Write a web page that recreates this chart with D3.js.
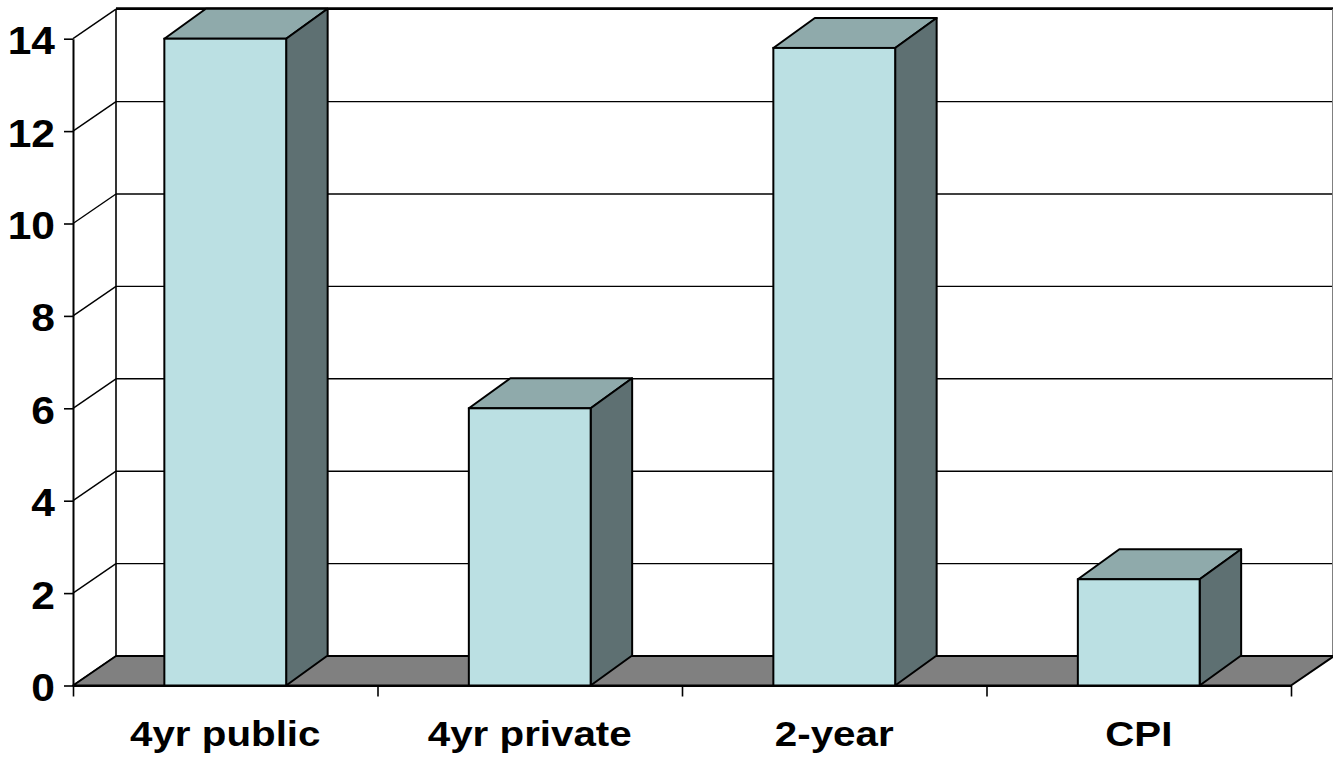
<!DOCTYPE html>
<html>
<head>
<meta charset="utf-8">
<script src="https://cdn.jsdelivr.net/npm/d3@7"></script>
<style>
  html, body { margin: 0; padding: 0; background: #ffffff; }
  svg { display: block; }
</style>
</head>
<body>
<svg id="chart" width="1333" height="759"></svg>
<script>
// ---- data ----
const categories = ["4yr public", "4yr private", "2-year", "CPI"];
const values = [14.0, 6.0, 13.8, 2.3];
const yTicks = [0, 2, 4, 6, 8, 10, 12, 14];

// ---- layout ----
const W = 1333, H = 759;
const left = 73, right = 1291;
const y0px = 685.5, y14px = 38.7;
const wallDx = 43, wallDy = 29.5;   // depth offset of walls/floor
const barDx = 41.5, barDy = 30;     // depth offset of bars
const fontFam = "Arial, 'Liberation Sans', Helvetica, sans-serif";
const stretch = 1.12;

const svg = d3.select("#chart");

const y = d3.scaleLinear().domain([0, 14]).range([y0px, y14px]);
const x = d3.scaleBand().domain(categories).range([left, right])
  .paddingInner(0.6).paddingOuter(0.3);
const xEdge = d3.scaleLinear().domain([0, categories.length]).range([left, right]);

// back wall gridlines
const grid = svg.append("g");
grid.selectAll("line.back").data(yTicks).join("line")
  .attr("class", "back")
  .attr("x1", left + wallDx).attr("x2", right + wallDx)
  .attr("y1", d => y(d) - wallDy).attr("y2", d => y(d) - wallDy)
  .attr("stroke", "#000").attr("stroke-width", 1.4);
// side wall diagonals
grid.selectAll("line.side").data(yTicks).join("line")
  .attr("class", "side")
  .attr("x1", left).attr("x2", left + wallDx)
  .attr("y1", d => y(d)).attr("y2", d => y(d) - wallDy)
  .attr("stroke", "#000").attr("stroke-width", 1.4);
// back wall edges
grid.append("line")
  .attr("x1", left + wallDx).attr("x2", left + wallDx)
  .attr("y1", y(14) - wallDy).attr("y2", y(0) - wallDy)
  .attr("stroke", "#000").attr("stroke-width", 1.6);
grid.append("line")
  .attr("x1", left + wallDx).attr("x2", right + wallDx)
  .attr("y1", y(14) - wallDy - 0.8).attr("y2", y(14) - wallDy - 0.8)
  .attr("stroke", "#000").attr("stroke-width", 2.4);
grid.append("line")
  .attr("x1", right + wallDx - 1).attr("x2", right + wallDx - 1)
  .attr("y1", y(14) - wallDy).attr("y2", y(0) - wallDy)
  .attr("stroke", "#808080").attr("stroke-width", 2);

// floor
svg.append("polygon")
  .attr("points", [
    [left, y(0)], [left + wallDx, y(0) - wallDy],
    [right + wallDx, y(0) - wallDy], [right, y(0)]
  ].map(p => p.join(",")).join(" "))
  .attr("fill", "#808080").attr("stroke", "#000").attr("stroke-width", 2)
  .attr("stroke-linejoin", "round");

// bars
const bars = svg.append("g").selectAll("g").data(values).join("g");
const pts = a => a.map(p => p.join(",")).join(" ");
bars.append("polygon")
  .attr("points", (d, i) => {
    const x0 = x(categories[i]), x1 = x0 + x.bandwidth(), yt = y(d);
    return pts([[x0, yt], [x0 + barDx, yt - barDy], [x1 + barDx, yt - barDy], [x1, yt]]);
  })
  .attr("fill", "#8FAAAB").attr("stroke", "#000").attr("stroke-width", 2).attr("stroke-linejoin", "round");
bars.append("polygon")
  .attr("points", (d, i) => {
    const x1 = x(categories[i]) + x.bandwidth(), yt = y(d), yb = y(0);
    return pts([[x1, yt], [x1 + barDx, yt - barDy], [x1 + barDx, yb - barDy], [x1, yb]]);
  })
  .attr("fill", "#5E7072").attr("stroke", "#000").attr("stroke-width", 2).attr("stroke-linejoin", "round");
bars.append("rect")
  .attr("x", (d, i) => x(categories[i]))
  .attr("y", d => y(d))
  .attr("width", x.bandwidth())
  .attr("height", d => y(0) - y(d))
  .attr("fill", "#BBE0E3").attr("stroke", "#000").attr("stroke-width", 2);

// y axis
const yAxis = svg.append("g")
  .attr("transform", `translate(${left},0)`)
  .call(d3.axisLeft(y).tickValues(yTicks).tickSize(9).tickSizeOuter(0).tickFormat(d3.format("d")));
yAxis.select(".domain").attr("stroke", "#000").attr("stroke-width", 2);
yAxis.selectAll(".tick line").attr("stroke", "#000").attr("stroke-width", 1.6);
yAxis.selectAll(".tick text")
  .attr("x", null).attr("dy", null)
  .attr("transform", `translate(-18,15) scale(${stretch},1)`)
  .attr("text-anchor", "end")
  .attr("fill", "#000")
  .style("font-family", fontFam).style("font-weight", "bold").style("font-size", "38px");

// x axis (category boundary ticks)
const xAxis = svg.append("g")
  .attr("transform", `translate(0,${y(0)})`)
  .call(d3.axisBottom(xEdge).tickValues(d3.range(categories.length + 1)).tickSize(11).tickSizeOuter(0).tickFormat(""));
xAxis.select(".domain").attr("stroke", "#000").attr("stroke-width", 2);
xAxis.selectAll(".tick line").attr("stroke", "#000").attr("stroke-width", 1.6);

// category labels
svg.append("g").selectAll("text").data(categories).join("text")
  .attr("transform", d => `translate(${x(d) + x.bandwidth() / 2},746) scale(${stretch},1)`)
  .attr("text-anchor", "middle")
  .attr("fill", "#000")
  .style("font-family", fontFam).style("font-weight", "bold").style("font-size", "36px")
  .text(d => d);
</script>
</body>
</html>
